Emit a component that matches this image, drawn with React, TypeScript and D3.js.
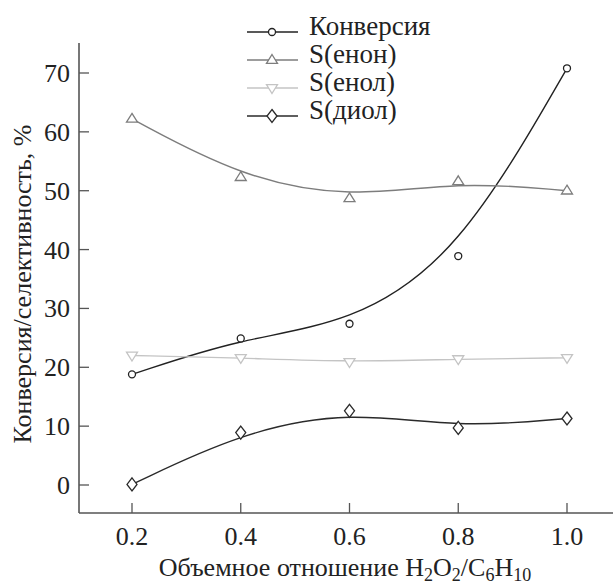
import React, { useEffect } from "react";
import * as d3 from "d3";

const width = 613;
const height = 584;

const ratios = [0.2, 0.4, 0.6, 0.8, 1.0];
const conversion = [18.8, 24.9, 27.4, 38.9, 70.8];
const enon = [62.2, 52.3, 48.7, 51.6, 50.0];
const enol = [22.0, 21.6, 20.9, 21.4, 21.6];
const diol = [0.1, 8.9, 12.6, 9.7, 11.3];

const yTicks = [0, 10, 20, 30, 40, 50, 60, 70];
const xTicks = [0.2, 0.4, 0.6, 0.8, 1.0];

const seriesNames = ["Конверсия", "S(енон)", "S(енол)", "S(диол)"];
const seriesValues = [conversion, enon, enol, diol];
const seriesColors = ["#222", "#7d7d7d", "#c4c4c4", "#2a2a2a"];
const seriesMarkers = ["circle", "up", "down", "diamond"];

const serif = { fontFamily: "'Liberation Serif', 'Times New Roman', Times, serif" };

const x = d3.scaleLinear().domain([0.2, 1.0]).range([132, 567]);
const y = d3.scaleLinear().domain([0, 70]).range([485, 73]);

const axisLeft = 79;
const axisBottom = 513;
const axisTop = 43;
const axisRight = 613;

function Marker({ kind, cx, cy, color }) {
  const common = { fill: "#fff", stroke: color, strokeWidth: 1.3 };
  if (kind === "circle") return <circle cx={cx} cy={cy} r={3.5} {...common} />;
  if (kind === "up") {
    const s = 5.5;
    return <path d={`M${cx},${cy - s}L${cx + s},${cy + s * 0.6}L${cx - s},${cy + s * 0.6}Z`} {...common} />;
  }
  if (kind === "down") {
    const s = 5.5;
    return <path d={`M${cx},${cy + s}L${cx + s},${cy - s * 0.6}L${cx - s},${cy - s * 0.6}Z`} {...common} />;
  }
  return <path d={`M${cx},${cy - 6.5}L${cx + 5},${cy}L${cx},${cy + 6.5}L${cx - 5},${cy}Z`} {...common} />;
}

export default function App() {
  useEffect(() => {
    document.body.style.margin = "0";
  }, []);

  const line = d3
    .line<number>()
    .x((_, i) => x(ratios[i]))
    .y(d => y(d))
    .curve(d3.curveBasis);

  return (
    <svg width={width} height={height} style={{ display: "block", background: "#fff" }}>
      {/* axes */}
      <line x1={axisLeft} y1={axisTop} x2={axisLeft} y2={axisBottom} stroke="#555" strokeWidth={1.6} />
      <line x1={axisLeft} y1={axisBottom} x2={axisRight} y2={axisBottom} stroke="#555" strokeWidth={1.6} />
      {yTicks.map(t => (
        <g key={t}>
          <line x1={axisLeft} x2={axisLeft + 10} y1={y(t)} y2={y(t)} stroke="#555" strokeWidth={1.3} />
          <text x={axisLeft - 9} y={y(t) + 9} textAnchor="end" fontSize={26} fill="#222" style={serif}>
            {t}
          </text>
        </g>
      ))}
      {xTicks.map(t => (
        <g key={t}>
          <line x1={x(t)} x2={x(t)} y1={axisBottom} y2={axisBottom - 10} stroke="#555" strokeWidth={1.3} />
          <text x={x(t)} y={545} textAnchor="middle" fontSize={26} fill="#222" style={serif}>
            {t.toFixed(1)}
          </text>
        </g>
      ))}
      <text x={345} y={576} textAnchor="middle" fontSize={26} fill="#222" style={serif}>
        Объемное отношение H<tspan fontSize={18} dy={5}>2</tspan>
        <tspan dy={-5}>O</tspan><tspan fontSize={18} dy={5}>2</tspan>
        <tspan dy={-5}>/C</tspan><tspan fontSize={18} dy={5}>6</tspan>
        <tspan dy={-5}>H</tspan><tspan fontSize={18} dy={5}>10</tspan>
      </text>
      <text transform={`translate(31,284) rotate(-90)`} textAnchor="middle" fontSize={26} fill="#222" style={serif}>
        Конверсия/селективность, %
      </text>

      {/* series */}
      {seriesValues.map((vals, si) => (
        <g key={si}>
          <path d={line(vals) || ""} fill="none" stroke={seriesColors[si]} strokeWidth={1.4} />
          {vals.map((v, i) => (
            <Marker key={i} kind={seriesMarkers[si]} cx={x(ratios[i])} cy={y(v)} color={seriesColors[si]} />
          ))}
        </g>
      ))}

      {/* legend */}
      {seriesNames.map((name, i) => {
        const ly = 32 + i * 28;
        return (
          <g key={name}>
            <line x1={247} x2={298} y1={ly} y2={ly} stroke={seriesColors[i]} strokeWidth={1.4} />
            <Marker kind={seriesMarkers[i]} cx={272} cy={ly} color={seriesColors[i]} />
            <text x={309} y={ly + 3} fontSize={27} fill="#222" style={serif}>
              {name}
            </text>
          </g>
        );
      })}
    </svg>
  );
}
